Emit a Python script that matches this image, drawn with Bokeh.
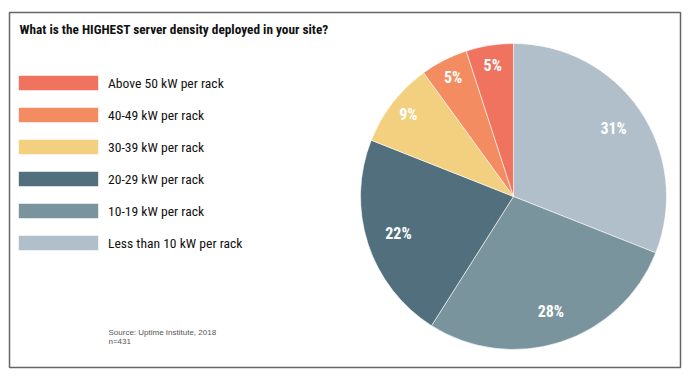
import math
from bokeh.plotting import figure
from bokeh.models import ColumnDataSource, Range1d, Legend, LegendItem
from bokeh.core.properties import value
from bokeh.embed import file_html
from bokeh.resources import INLINE

# ---- data ----
categories = ["Less than 10 kW per rack", "10-19 kW per rack", "20-29 kW per rack",
              "30-39 kW per rack", "40-49 kW per rack", "Above 50 kW per rack"]
percents = [31, 28, 22, 9, 5, 5]
colors = ["#B0BFC9", "#7A949E", "#516F7C", "#F3CF80", "#F38C60", "#F07360"]
title_text = "What is the HIGHEST server density deployed in your site?"
source_lines = ["Source: Uptime Institute, 2018", "n=431"]

COND_STR = "'Roboto Condensed', 'Open Sans Condensed', sans-serif"
COND = value(COND_STR)

FW, FH = 671, 355
p = figure(width=691, height=382, output_backend="svg", toolbar_location=None,
           x_range=Range1d(0, FW), y_range=Range1d(0, FH),
           min_border_left=9, min_border_right=11, min_border_top=12, min_border_bottom=15)
p.axis.visible = False
p.grid.visible = False
p.outline_line_color = "#666666"
p.outline_line_width = 1.5
p.background_fill_color = "white"
p.border_fill_color = "white"

cx, cy, R = 504, 171, 153
total = sum(percents)
starts, ends, lx, ly, labels = [], [], [], [], []
cum = 0.0
for v in percents:
    a0 = cum / total * 2 * math.pi
    cum += v
    a1 = cum / total * 2 * math.pi
    starts.append(math.pi / 2 - a1)
    ends.append(math.pi / 2 - a0)
    mid = (a0 + a1) / 2
    rl = 121 if v >= 20 else 133
    lx.append(cx + rl * math.sin(mid))
    ly.append(cy + rl * math.cos(mid))
    labels.append(f"{v}%")

src = ColumnDataSource(dict(start=starts, end=ends, color=colors, cat=categories,
                            lx=lx, ly=ly, lab=labels))
r = p.wedge(x=cx, y=cy, radius=R, radius_units="screen", start_angle="start", end_angle="end",
            direction="anticlock", fill_color="color", line_color="white", line_width=0.6,
            source=src)
p.text(x="lx", y="ly", text="lab", source=src, text_color="white", text_font=COND,
       text_font_style="bold", text_font_size="16px", text_align="center", text_baseline="middle")

p.text(x=[10], y=[FH - 17], text=[title_text], text_font=COND, text_font_style="bold",
       text_font_size="13.3px", text_color="#111111", text_baseline="middle")

p.text(x=[99, 99], y=[FH - 320, FH - 329], text=source_lines,
       text_font=value("'Liberation Sans', Arial, sans-serif"), text_font_size="8px",
       text_color="#555555", text_baseline="middle")

items = [LegendItem(label=categories[i], renderers=[r], index=i) for i in reversed(range(len(categories)))]
legend = Legend(items=items, location=(-1, 115), glyph_width=100, glyph_height=19,
                label_height=19, spacing=13, label_standoff=0, padding=0, margin=0,
                border_line_color=None, background_fill_alpha=0,
                label_text_font=COND_STR, label_text_font_size="13.6px", label_text_color="#111111")
p.add_layout(legend)

open("out.html", "w").write(file_html(p, INLINE))
